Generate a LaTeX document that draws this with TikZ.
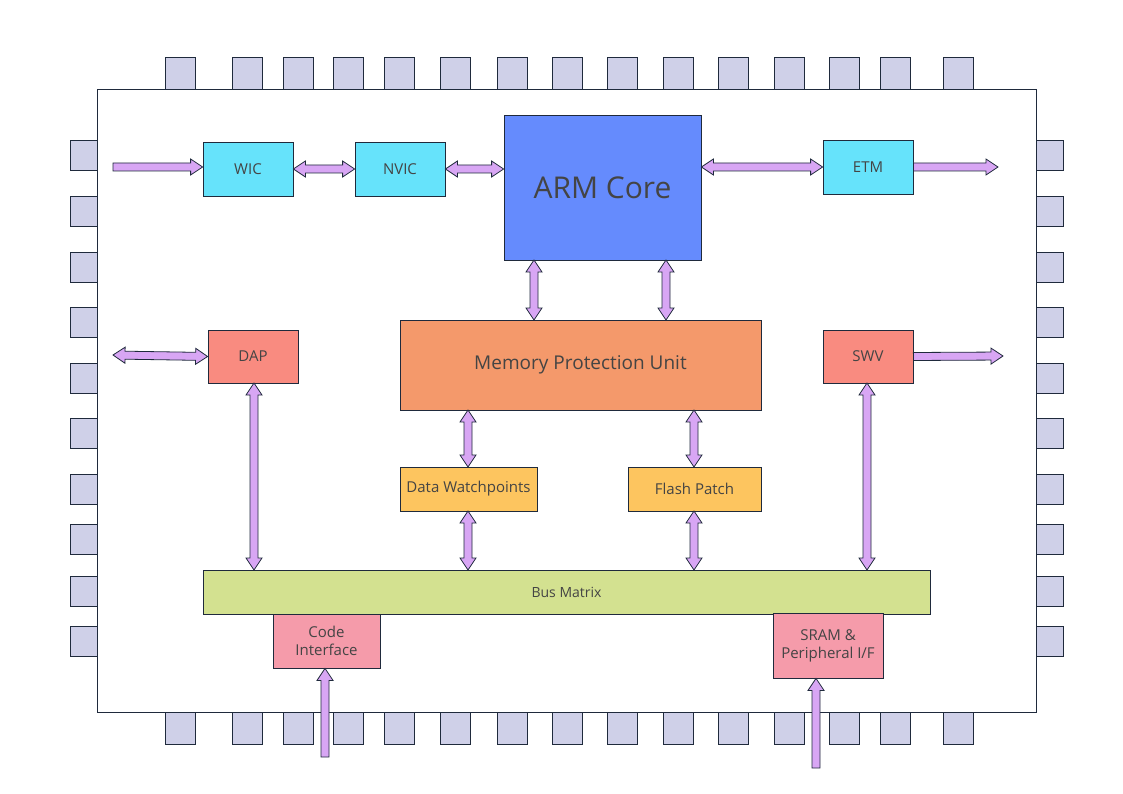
\documentclass[tikz,border=0pt]{standalone}
\usepackage{fontspec}
\setmainfont{Open Sans}
\usetikzlibrary{calc}
\definecolor{pinc}{HTML}{CFD0E8}
\definecolor{cyanc}{HTML}{66E3FB}
\definecolor{bluec}{HTML}{658BFD}
\definecolor{orangec}{HTML}{F4996B}
\definecolor{redc}{HTML}{F98B80}
\definecolor{yellowc}{HTML}{FDC55F}
\definecolor{greenc}{HTML}{D3E190}
\definecolor{pinkc}{HTML}{F59BAA}
\definecolor{arrowc}{HTML}{D8A6F4}
\definecolor{linec}{HTML}{1F2A3C}
\definecolor{textc}{HTML}{444444}
\tikzset{
    block/.style={draw=linec, line width=0.8pt, text=textc, inner sep=0pt, align=center, font=\fontsize{15}{18}\selectfont},
    pin/.style={draw=linec, line width=0.8pt, fill=pinc},
    fat/.style={draw=linec, line width=0.8pt, fill=arrowc, line join=miter}
}
% fat arrows: \twoway{from}{to}, \oneway{from}{to}
\newcommand{\twoway}[2]{
    \coordinate (A) at (#1); \coordinate (B) at (#2);
    \coordinate (p1) at ($(A)!12pt!(B)$); \coordinate (p2) at ($(B)!12pt!(A)$);
    \draw[fat] (A) -- ($(p1)!8pt!90:(B)$) -- ($(p1)!4pt!90:(B)$) -- ($(p2)!4pt!-90:(A)$) -- ($(p2)!8pt!-90:(A)$) -- (B)
        -- ($(p2)!8pt!90:(A)$) -- ($(p2)!4pt!90:(A)$) -- ($(p1)!4pt!-90:(B)$) -- ($(p1)!8pt!-90:(B)$) -- cycle;
}
\newcommand{\oneway}[2]{
    \coordinate (A) at (#1); \coordinate (B) at (#2);
    \coordinate (p2) at ($(B)!12pt!(A)$);
    \draw[fat] ($(A)!4pt!90:(B)$) -- ($(p2)!4pt!-90:(A)$) -- ($(p2)!8pt!-90:(A)$) -- (B)
        -- ($(p2)!8pt!90:(A)$) -- ($(p2)!4pt!90:(A)$) -- ($(A)!4pt!-90:(B)$) -- cycle;
}
\begin{document}
\begin{tikzpicture}[x=1pt, y=-1pt]
    \useasboundingbox[fill=white] (0,0) rectangle (1123,794);
    \node[draw=linec, line width=0.8pt, fill=white, minimum width=939pt, minimum height=623pt, inner sep=0pt] (CHIP) at (566.5,400.5) {};

    % pins
    \foreach \x in {165,232,283,333,384,440,497,552,607,663,718,774,829,880,943} {
        \draw[pin] (\x,57) rectangle ++(30,32);
        \draw[pin] (\x,712) rectangle ++(30,32);
    }
    \foreach \y in {140,196,252,307,363,418,474,524,576,626} {
        \draw[pin] (70,\y) rectangle ++(27,30);
        \draw[pin] (1036,\y) rectangle ++(27,30);
    }

    \node[block, fill=cyanc, minimum width=90pt, minimum height=54pt] (WIC) at (248,169) {WIC};
    \node[block, fill=cyanc, minimum width=90pt, minimum height=54pt] (NVIC) at (400,169) {NVIC};
    \node[block, fill=bluec, minimum width=197pt, minimum height=145pt, font=\fontsize{30}{36}\selectfont] (ARM) at (602.5,187.5) {ARM Core};
    \node[block, fill=cyanc, minimum width=90pt, minimum height=54pt] (ETM) at (868,167) {ETM};
    \node[block, fill=redc, minimum width=90pt, minimum height=53pt] (DAP) at (253,356.5) {DAP};
    \node[block, fill=orangec, minimum width=361pt, minimum height=90pt, font=\fontsize{19}{23}\selectfont] (MPU) at (580.5,365) {Memory Protection Unit};
    \node[block, fill=redc, minimum width=90pt, minimum height=53pt] (SWV) at (868,356.5) {SWV};
    \node[block, fill=yellowc, minimum width=137pt, minimum height=44pt] (DW) at (468.5,489) {Data Watchpoints};
    \node[block, fill=yellowc, minimum width=133pt, minimum height=44pt] (FP) at (694.5,489) {Flash Patch};
    \node[block, fill=greenc, minimum width=727pt, minimum height=44pt, font=\fontsize{14}{17}\selectfont] (BUS) at (566.5,592) {Bus Matrix};
    \node[block, fill=pinkc, minimum width=107pt, minimum height=54pt] (CODE) at (326.5,641) {Code\\Interface};
    \node[block, fill=pinkc, minimum width=110pt, minimum height=65pt] (SRAM) at (828,645.5) {SRAM \&\\Peripheral I/F};

    \coordinate (wicin) at (113,167);
    \coordinate (etmout) at (998,167);
    \coordinate (dapout) at (113,355);
    \coordinate (swvout) at (1003,356);
    \coordinate (codein) at (325,757);
    \coordinate (sramin) at (816,768);

    \oneway{wicin}{wicin -| WIC.west}
    \twoway{WIC.east}{NVIC.west}
    \twoway{NVIC.east}{NVIC.east -| ARM.west}
    \twoway{ARM.east |- ETM.west}{ETM.west}
    \oneway{ETM.east}{etmout}
    \twoway{dapout}{DAP.west}
    \oneway{SWV.east}{swvout}
    \twoway{534,260}{534,320}
    \twoway{666,260}{666,320}
    \twoway{468,410}{468,467}
    \twoway{694,410}{694,467}
    \twoway{468,511}{468,570}
    \twoway{694,511}{694,570}
    \twoway{254,383}{254,570}
    \twoway{867,383}{867,570}
    \oneway{codein}{codein |- CODE.south}
    \oneway{sramin}{sramin |- SRAM.south}
\end{tikzpicture}
\end{document}
